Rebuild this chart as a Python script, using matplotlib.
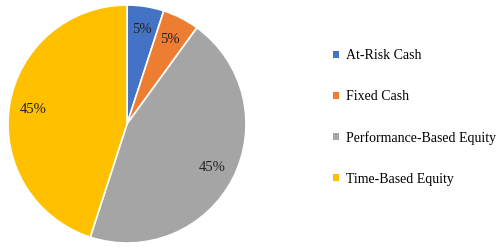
import matplotlib
matplotlib.use("Agg")
import matplotlib.pyplot as plt
from matplotlib.patches import Patch

categories = ["At-Risk Cash", "Fixed Cash", "Performance-Based Equity", "Time-Based Equity"]
values = [5, 5, 45, 45]
colors = ["#4472C4", "#ED7D31", "#A5A5A5", "#FFC000"]

plt.rcParams['font.family'] = ['Liberation Serif', 'DejaVu Serif']

fig = plt.figure(figsize=(5.01, 2.48), dpi=100)
ax = fig.add_axes([8/501, 5/248, 238/501, 238/248])
wedges, texts, autotexts = ax.pie(
    values, colors=colors, startangle=90, counterclock=False,
    autopct=lambda p: f"{p:.0f}%", pctdistance=0.80,
    wedgeprops=dict(edgecolor="white", linewidth=1.2),
    textprops=dict(fontsize=10.5, color="#222222"))
ax.set_xlim(-1, 1)
ax.set_ylim(-1, 1)
ax.set_aspect('equal')

handles = [Patch(facecolor=c, edgecolor='none') for c in colors]
fig.legend(handles, categories, loc='upper left', bbox_to_anchor=(333/501, 1 - 49/248),
           frameon=False, fontsize=10, handlelength=0.4, handleheight=0.4,
           handletextpad=0.55, labelspacing=2.02, borderaxespad=0, borderpad=0)

fig.savefig("out.png", dpi=100)
